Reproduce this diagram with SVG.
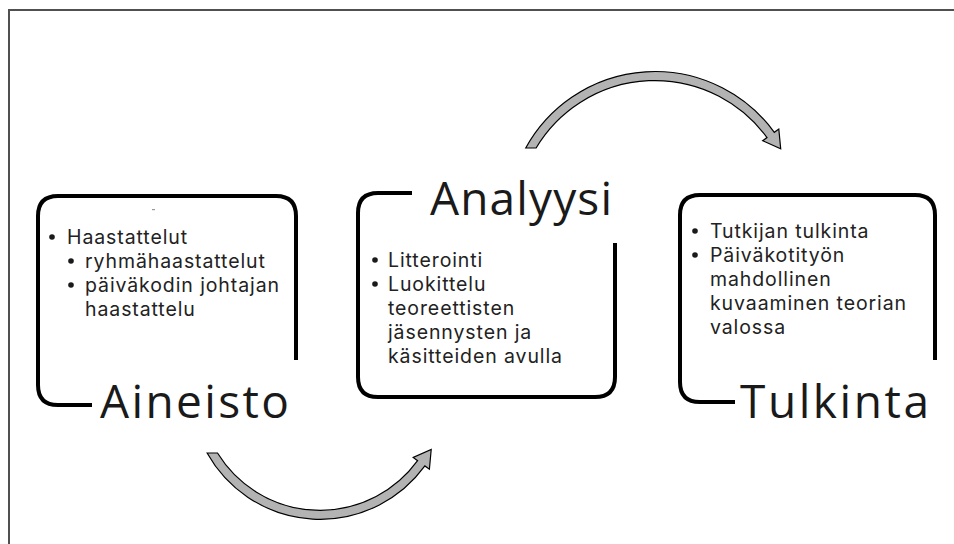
<svg xmlns="http://www.w3.org/2000/svg" width="954" height="544" viewBox="0 0 954 544">
  <style>
    .frame { fill: none; stroke: #505050; stroke-width: 2; }
    .box { fill: none; stroke: #000; stroke-width: 4; stroke-linecap: butt; }
    .title { font-family: "Open Sans", "Liberation Sans", sans-serif; font-size: 46px; fill: #1a1a1a; }
    .item { font-family: Inter, "Open Sans", "Liberation Sans", sans-serif; font-size: 19.5px; fill: #222; letter-spacing: 0.9px; }
    .dot { fill: #1a1a1a; }
    .arrow { fill: #b3b3b3; stroke: #000; stroke-width: 1.2; stroke-linejoin: miter; }
  </style>

  <rect width="954" height="544" fill="#fff"/>

  <!-- outer frame (top and left edges) -->
  <path class="frame" d="M954,10 H9 V544"/>

  <!-- Aineisto -->
  <g id="aineisto">
    <path class="box" d="M92,405 H58 Q38,405 38,385 V216 Q38,196 58,196 H276 Q296,196 296,216 V360"/>
    <rect x="152" y="209" width="3" height="1.2" fill="#999"/>
    <circle class="dot" cx="52" cy="237" r="2.8"/>
    <text class="item" x="67" y="244">Haastattelut</text>
    <circle class="dot" cx="71" cy="261" r="2.8"/>
    <text class="item" x="85" y="268">ryhmähaastattelut</text>
    <circle class="dot" cx="71" cy="285" r="2.8"/>
    <text class="item" x="85" y="292">päiväkodin johtajan</text>
    <text class="item" x="85" y="316">haastattelu</text>
    <text class="title" x="100" y="418" textLength="189" lengthAdjust="spacing">Aineisto</text>
  </g>

  <!-- Analyysi -->
  <g id="analyysi">
    <path class="box" d="M412,193 H378 Q358,193 358,213 V377 Q358,397 378,397 H595 Q615,397 615,377 V243"/>
    <circle class="dot" cx="375" cy="260" r="2.8"/>
    <text class="item" x="388" y="267">Litterointi</text>
    <circle class="dot" cx="375" cy="284" r="2.8"/>
    <text class="item" x="388" y="291">Luokittelu</text>
    <text class="item" x="388" y="315">teoreettisten</text>
    <text class="item" x="388" y="339">jäsennysten ja</text>
    <text class="item" x="388" y="363">käsitteiden avulla</text>
    <text class="title" x="430" y="215" textLength="182" lengthAdjust="spacing">Analyysi</text>
  </g>

  <!-- Tulkinta -->
  <g id="tulkinta">
    <path class="box" d="M735,402 H700 Q680,402 680,382 V215 Q680,195 700,195 H915 Q935,195 935,215 V360"/>
    <circle class="dot" cx="695" cy="231" r="2.8"/>
    <text class="item" x="710" y="238">Tutkijan tulkinta</text>
    <circle class="dot" cx="695" cy="255" r="2.8"/>
    <text class="item" x="710" y="262">Päiväkotityön</text>
    <text class="item" x="710" y="286">mahdollinen</text>
    <text class="item" x="710" y="310">kuvaaminen teorian</text>
    <text class="item" x="710" y="334">valossa</text>
    <text class="title" x="740" y="418" textLength="189" lengthAdjust="spacing">Tulkinta</text>
  </g>

  <!-- curved block arrows between stages -->
  <g id="connectors">
    <path class="arrow" d="M207.1,453 A129.5,129.5 0 0 0 424.87,465.95 L429.4,469.2 L431.2,449.5 L413.2,457.4 L417.58,460.65 A120.5,120.5 0 0 1 217.5,453 Z"/>
    <path class="arrow" d="M525.7,148 A147.5,147.5 0 0 1 774.3,132.3 L778.8,129.0 L780.7,148.7 L762.7,140.7 L767.0,137.6 A138.5,138.5 0 0 0 536.1,148 Z"/>
  </g>
</svg>
